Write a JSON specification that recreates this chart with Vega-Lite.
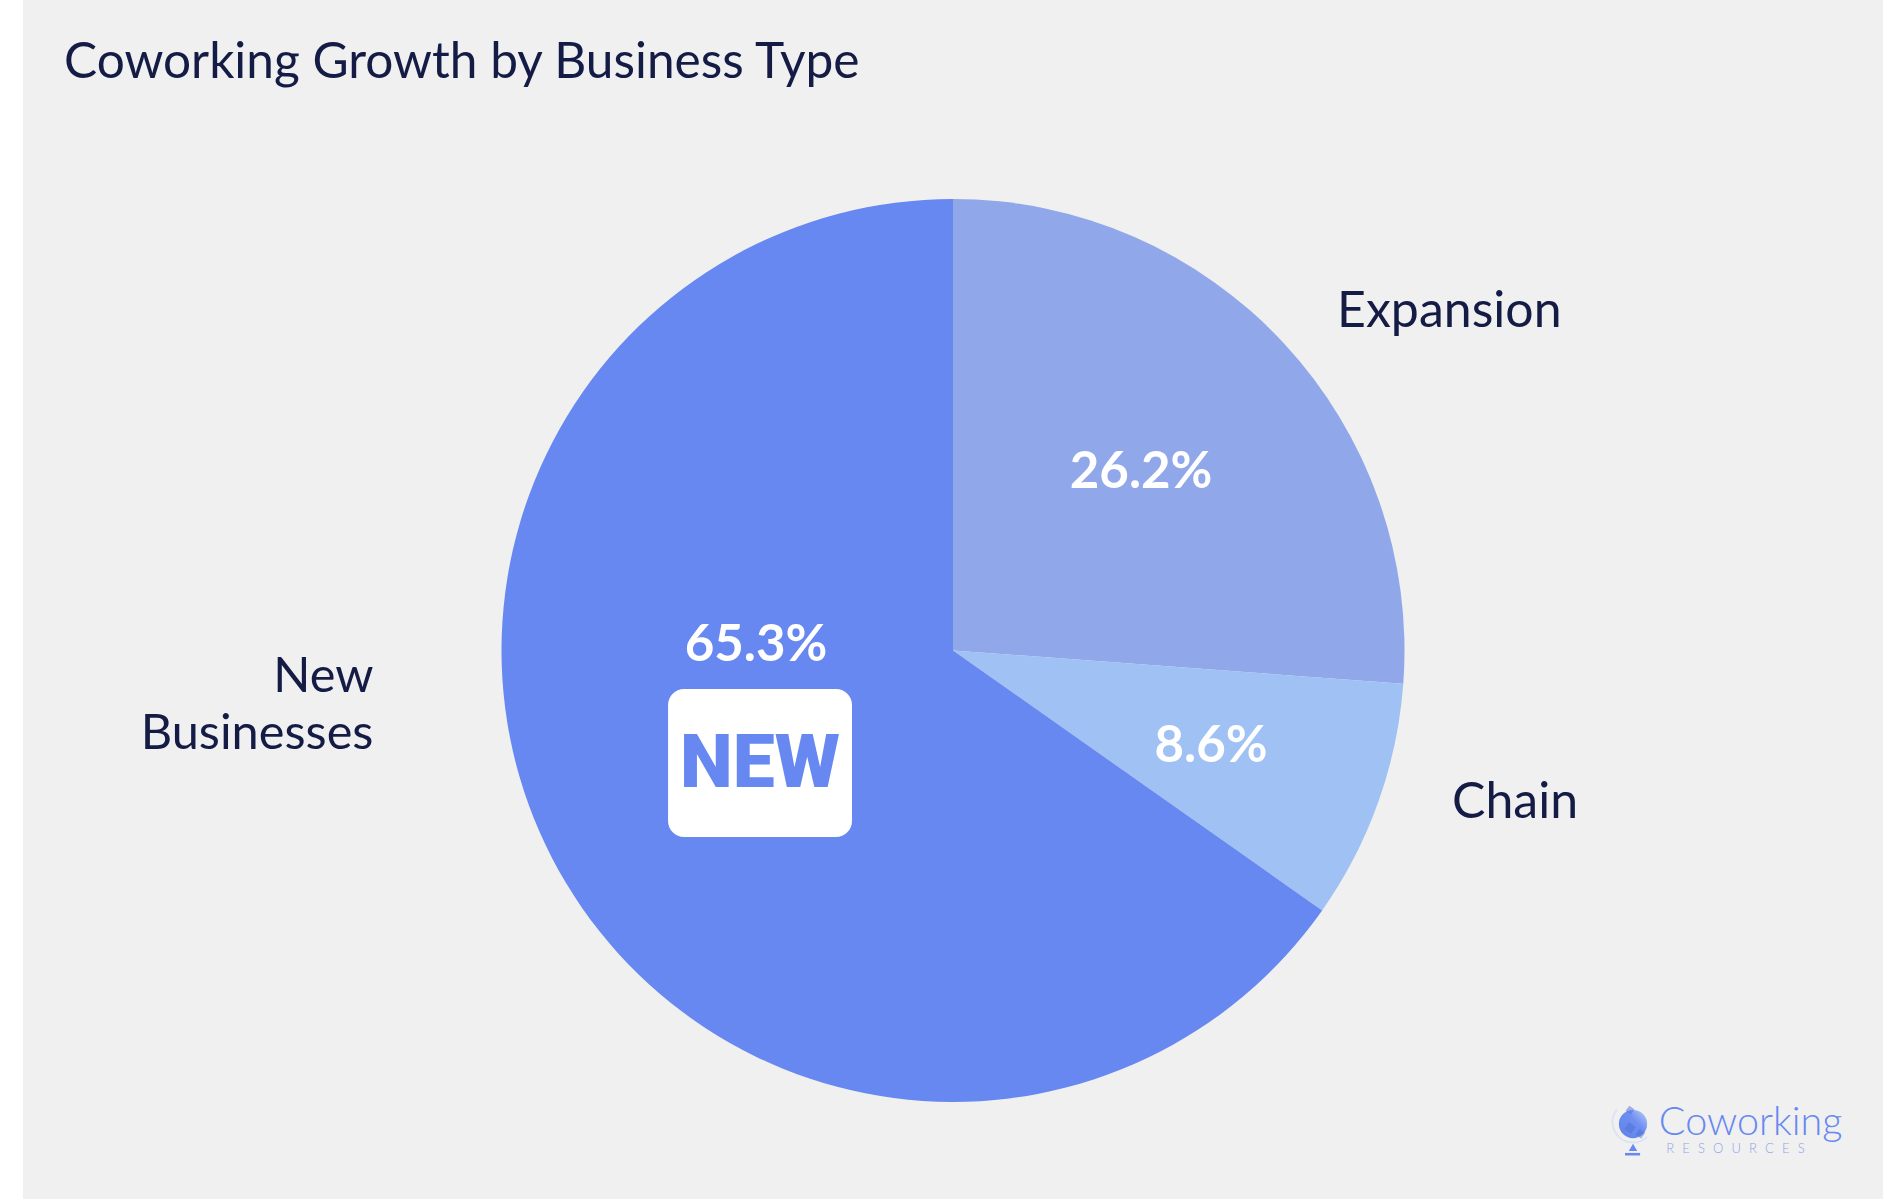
{
"$schema":"https://vega.github.io/schema/vega-lite/v6.json",
"width":1860,"height":1199,
"autosize":{"type":"none"},
"padding":{"left":23,"top":0,"right":0,"bottom":0},
"background":"#ffffff",
"view":{"fill":"#f0f0f0","stroke":null},
"config":{"font":"Lato"},
"datasets":{"shares":[
{"type":"Expansion","share":26.2,"order":1,"label":"26.2%"},
{"type":"Chain","share":8.6,"order":2,"label":"8.6%"},
{"type":"New Businesses","share":65.3,"order":3,"label":"65.3%"}
]},
"data":{"name":"shares"},
"title":{"text":"Coworking Growth by Business Type","anchor":"start","orient":"top","offset":-88.5,"dx":41,"font":"Lato","fontSize":49.6,"fontWeight":400,"color":"#141c45"},
"layer":[
{"mark":{"type":"arc","outerRadius":451.5},
 "encoding":{
  "x":{"datum":0.5,"type":"quantitative","scale":{"domain":[0,1],"nice":false,"zero":false},"axis":null},
  "y":{"datum":0.5425,"type":"quantitative","scale":{"domain":[0,1],"nice":false,"zero":false,"reverse":true},"axis":null},
  "theta":{"field":"share","type":"quantitative","stack":true},
  "order":{"field":"order"},
  "color":{"field":"type","type":"nominal","legend":null,"scale":{"domain":["Expansion","Chain","New Businesses"],"range":["#90a7ea","#a0c1f3","#6788f1"]}}
 }},
{"data":{"name":"shares"},"transform":[{"filter":"datum.type=='Expansion'"}],
 "mark":{"type":"text","fontSize":51,"fontWeight":700,"color":"#ffffff","align":"center","baseline":"middle"},
 "encoding":{"x":{"datum":0.6011,"type":"quantitative"},"y":{"datum":0.3948,"type":"quantitative"},"text":{"field":"label"}}},
{"data":{"name":"shares"},"transform":[{"filter":"datum.type=='Chain'"}],
 "mark":{"type":"text","fontSize":51,"fontWeight":700,"color":"#ffffff","align":"center","baseline":"middle"},
 "encoding":{"x":{"datum":0.6387,"type":"quantitative"},"y":{"datum":0.6233,"type":"quantitative"},"text":{"field":"label"}}},
{"data":{"name":"shares"},"transform":[{"filter":"datum.type=='New Businesses'"}],
 "mark":{"type":"text","fontSize":51,"fontWeight":700,"color":"#ffffff","align":"center","baseline":"middle"},
 "encoding":{"x":{"datum":0.3941,"type":"quantitative"},"y":{"datum":0.5386,"type":"quantitative"},"text":{"field":"label"}}},
{"data":{"values":[{"type":"Expansion"}]},
 "mark":{"type":"text","fontSize":50,"color":"#141c45","align":"left","baseline":"middle"},
 "encoding":{"x":{"datum":0.7065,"type":"quantitative"},"y":{"datum":0.26,"type":"quantitative"},"text":{"field":"type"}}},
{"data":{"values":[{"type":"Chain"}]},
 "mark":{"type":"text","fontSize":50,"color":"#141c45","align":"left","baseline":"middle"},
 "encoding":{"x":{"datum":0.7683,"type":"quantitative"},"y":{"datum":0.6698,"type":"quantitative"},"text":{"field":"type"}}},
{"data":{"values":[{"type":"New\nBusinesses"}]},
 "mark":{"type":"text","fontSize":48.7,"color":"#141c45","align":"right","baseline":"middle","lineBreak":"\n","lineHeight":57.6},
 "encoding":{"x":{"datum":0.1884,"type":"quantitative"},"y":{"datum":0.5645,"type":"quantitative"},"text":{"field":"type"}}},
{"data":{"values":[{"icon":"NEW"}]},
 "mark":{"type":"rect","fill":"#ffffff","cornerRadius":16},
 "encoding":{"x":{"datum":0.3468,"type":"quantitative"},"x2":{"datum":0.4457},"y":{"datum":0.5746,"type":"quantitative"},"y2":{"datum":0.698}}},
{"data":{"values":[{"icon":"NEW"}]},
 "mark":{"type":"text","font":"Roboto","fontWeight":900,"fontSize":75,"color":"#6788f1","align":"center","baseline":"middle"},
 "encoding":{"x":{"datum":0.3962,"type":"quantitative"},"y":{"datum":0.6368,"type":"quantitative"},"text":{"field":"icon"}}},
{"data":{"values":[{"logo":"ring"}]},
 "mark":{"type":"arc","theta":2.39,"theta2":5.38,"innerRadius":19.5,"outerRadius":21.5,"fill":"#dde3f4"},
 "encoding":{"x":{"datum":0.8656,"type":"quantitative"},"y":{"datum":0.9358,"type":"quantitative"}}},
{"data":{"values":[{"logo":"globe"}]},
 "mark":{"type":"point","filled":true,"shape":"circle","size":800,"opacity":1,"color":{"x1":0,"y1":1,"x2":1,"y2":0,"gradient":"linear","stops":[{"offset":0,"color":"#5f80e6"},{"offset":0.6,"color":"#6f90f2"},{"offset":1,"color":"#bccdf8"}]}},
 "encoding":{"x":{"datum":0.8656,"type":"quantitative"},"y":{"datum":0.9375,"type":"quantitative"}}},
{"data":{"values":[{"logo":"facet"}]},
 "mark":{"type":"point","filled":true,"shape":"square","size":70,"angle":35,"opacity":0.5,"color":"#4f6fd4"},
 "encoding":{"x":{"datum":0.864,"type":"quantitative"},"y":{"datum":0.9408,"type":"quantitative"}}},
{"data":{"values":[{"logo":"facet"}]},
 "mark":{"type":"point","filled":true,"shape":"square","size":40,"angle":35,"opacity":0.5,"color":"#4f6fd4"},
 "encoding":{"x":{"datum":0.864,"type":"quantitative"},"y":{"datum":0.9258,"type":"quantitative"}}},
{"data":{"values":[{"logo":"facet"}]},
 "mark":{"type":"point","filled":true,"shape":"square","size":50,"angle":35,"opacity":0.5,"color":"#4f6fd4"},
 "encoding":{"x":{"datum":0.8695,"type":"quantitative"},"y":{"datum":0.9455,"type":"quantitative"}}},
{"data":{"values":[{"logo":"stand"}]},
 "mark":{"type":"point","filled":true,"shape":"triangle-up","size":70,"opacity":1,"color":"#6788f1"},
 "encoding":{"x":{"datum":0.8656,"type":"quantitative"},"y":{"datum":0.957,"type":"quantitative"}}},
{"data":{"values":[{"logo":"base"}]},
 "mark":{"type":"rect","fill":"#6788f1"},
 "encoding":{"x":{"datum":0.8613,"type":"quantitative"},"x2":{"datum":0.8694},"y":{"datum":0.9616,"type":"quantitative"},"y2":{"datum":0.9637}}},
{"data":{"values":[{"name":"Coworking"}]},
 "mark":{"type":"text","font":"Lato","fontWeight":300,"fontSize":39.5,"color":"#6788f1","align":"left","baseline":"middle"},
 "encoding":{"x":{"datum":0.8795,"type":"quantitative"},"y":{"datum":0.9364,"type":"quantitative"},"text":{"field":"name"}}},
{"data":{"values":[{"name":"R\u2002\u2009E\u2002\u2009S\u2002\u2009O\u2002\u2009U\u2002\u2009R\u2002\u2009C\u2002\u2009E\u2002\u2009S"}]},
 "mark":{"type":"text","font":"Lato","fontWeight":300,"fontSize":13,"color":"#8ea4ea","align":"left","baseline":"middle"},
 "encoding":{"x":{"datum":0.8835,"type":"quantitative"},"y":{"datum":0.9585,"type":"quantitative"},"text":{"field":"name"}}}
]
}
